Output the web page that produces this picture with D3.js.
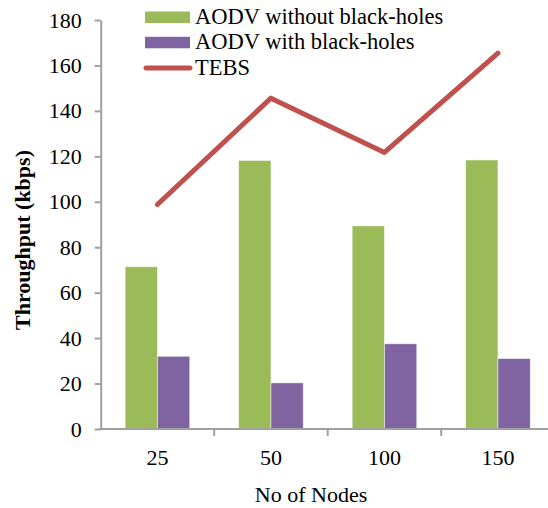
<!DOCTYPE html>
<html>
<head>
<meta charset="utf-8">
<script src="https://cdn.jsdelivr.net/npm/d3@7"></script>
</head>
<body style="margin:0">
<svg id="chart" width="548" height="508"></svg>
<script>
// Throughput per network size
const categories = ["25", "50", "100", "150"];
const seriesNames = ["AODV without black-holes", "AODV with black-holes"];
const withoutBlackHoles = [71.4, 118.2, 89.4, 118.4];
const withBlackHoles = [32.0, 20.3, 37.5, 31.0];
const tebs = [98.8, 145.6, 121.7, 165.4];
const yTicks = [0, 20, 40, 60, 80, 100, 120, 140, 160, 180];

const colors = { green: "#9bbb59", purple: "#8064a2", red: "#c0504d", axis: "#a0a0a0" };

const svg = d3.select("#chart");
const plotLeft = 100.7, plotRight = 554.7, plotTop = 20, plotBottom = 429;

// serif face and size for a text selection
function label(sel, size, weight) {
  sel.style("font-family", '"Liberation Serif"').attr("font-size", size);
  if (weight) sel.attr("font-weight", weight);
  return sel;
}

const x0 = d3.scaleBand().domain(categories).range([plotLeft, plotRight]).padding(0);
const x1 = d3.scaleBand().domain(seriesNames).range([0, x0.bandwidth()])
  .paddingInner(0).paddingOuter(0.757);
const y = d3.scaleLinear().domain([0, 180]).range([plotBottom, plotTop]);

const barData = categories.map((c, i) => ({
  cat: c,
  values: [
    { key: seriesNames[0], value: withoutBlackHoles[i], color: colors.green },
    { key: seriesNames[1], value: withBlackHoles[i], color: colors.purple }
  ]
}));

// grouped bars
svg.append("g").selectAll("g")
  .data(barData).join("g")
  .attr("transform", d => `translate(${x0(d.cat)},0)`)
  .selectAll("rect")
  .data(d => d.values).join("rect")
  .attr("x", d => x1(d.key))
  .attr("width", x1.bandwidth())
  .attr("y", d => y(d.value))
  .attr("height", d => y(0) - y(d.value))
  .attr("fill", d => d.color)
  .attr("stroke", "rgba(255,255,255,0.6)")
  .attr("stroke-width", 0.8);

// TEBS line
const tebsLine = d3.line()
  .x((d, i) => x0(categories[i]) + x0.bandwidth() / 2)
  .y(d => y(d));
svg.append("path")
  .datum(tebs)
  .attr("d", tebsLine)
  .attr("fill", "none")
  .attr("stroke", colors.red)
  .attr("stroke-width", 5)
  .attr("stroke-linecap", "round")
  .attr("stroke-linejoin", "round");

// y axis
const yAxis = svg.append("g")
  .attr("transform", `translate(${plotLeft},0)`)
  .call(d3.axisLeft(y).tickValues(yTicks).tickSize(6).tickPadding(13).tickSizeOuter(0));
yAxis.attr("font-family", null).attr("font-size", null);
yAxis.select(".domain").attr("stroke", colors.axis).attr("stroke-width", 2);
yAxis.selectAll(".tick line").attr("stroke", colors.axis).attr("stroke-width", 2);
label(yAxis.selectAll(".tick text"), 22).attr("fill", "#000");

// x axis: ticks at category boundaries, labels at centers
const xAxisG = svg.append("g");
xAxisG.append("line")
  .attr("x1", plotLeft - 1).attr("x2", plotRight)
  .attr("y1", plotBottom).attr("y2", plotBottom)
  .attr("stroke", colors.axis).attr("stroke-width", 2);
xAxisG.selectAll("line.tk")
  .data(categories.slice(1)).join("line")
  .attr("class", "tk")
  .attr("x1", d => x0(d)).attr("x2", d => x0(d))
  .attr("y1", plotBottom).attr("y2", plotBottom + 7)
  .attr("stroke", colors.axis).attr("stroke-width", 2);
label(xAxisG.selectAll("text")
  .data(categories).join("text")
  .attr("x", d => x0(d) + x0.bandwidth() / 2)
  .attr("y", 465)
  .attr("text-anchor", "middle")
  .text(d => d), 22);

// axis titles
label(svg.append("text")
  .attr("x", 311).attr("y", 502)
  .attr("text-anchor", "middle")
  .text("No of Nodes"), 22);
label(svg.append("text")
  .attr("transform", "translate(30,240) rotate(-90)")
  .attr("text-anchor", "middle")
  .text("Throughput (kbps)"), 22, "bold");

// legend
const legend = svg.append("g");
const legendItems = [
  { label: seriesNames[0], color: colors.green, type: "rect" },
  { label: seriesNames[1], color: colors.purple, type: "rect" },
  { label: "TEBS", color: colors.red, type: "line" }
];
legendItems.forEach((d, i) => {
  const baseY = 24 + i * 25.3;
  if (d.type === "rect") {
    legend.append("rect")
      .attr("x", 145).attr("y", baseY - 12.5)
      .attr("width", 45).attr("height", 11.5)
      .attr("fill", d.color);
  } else {
    legend.append("line")
      .attr("x1", 146).attr("x2", 190)
      .attr("y1", baseY - 6.5).attr("y2", baseY - 6.5)
      .attr("stroke", d.color).attr("stroke-width", 5)
      .attr("stroke-linecap", "round");
  }
  label(legend.append("text")
    .attr("x", 195).attr("y", baseY)
    .text(d.label), 22.5);
});
</script>
</body>
</html>
